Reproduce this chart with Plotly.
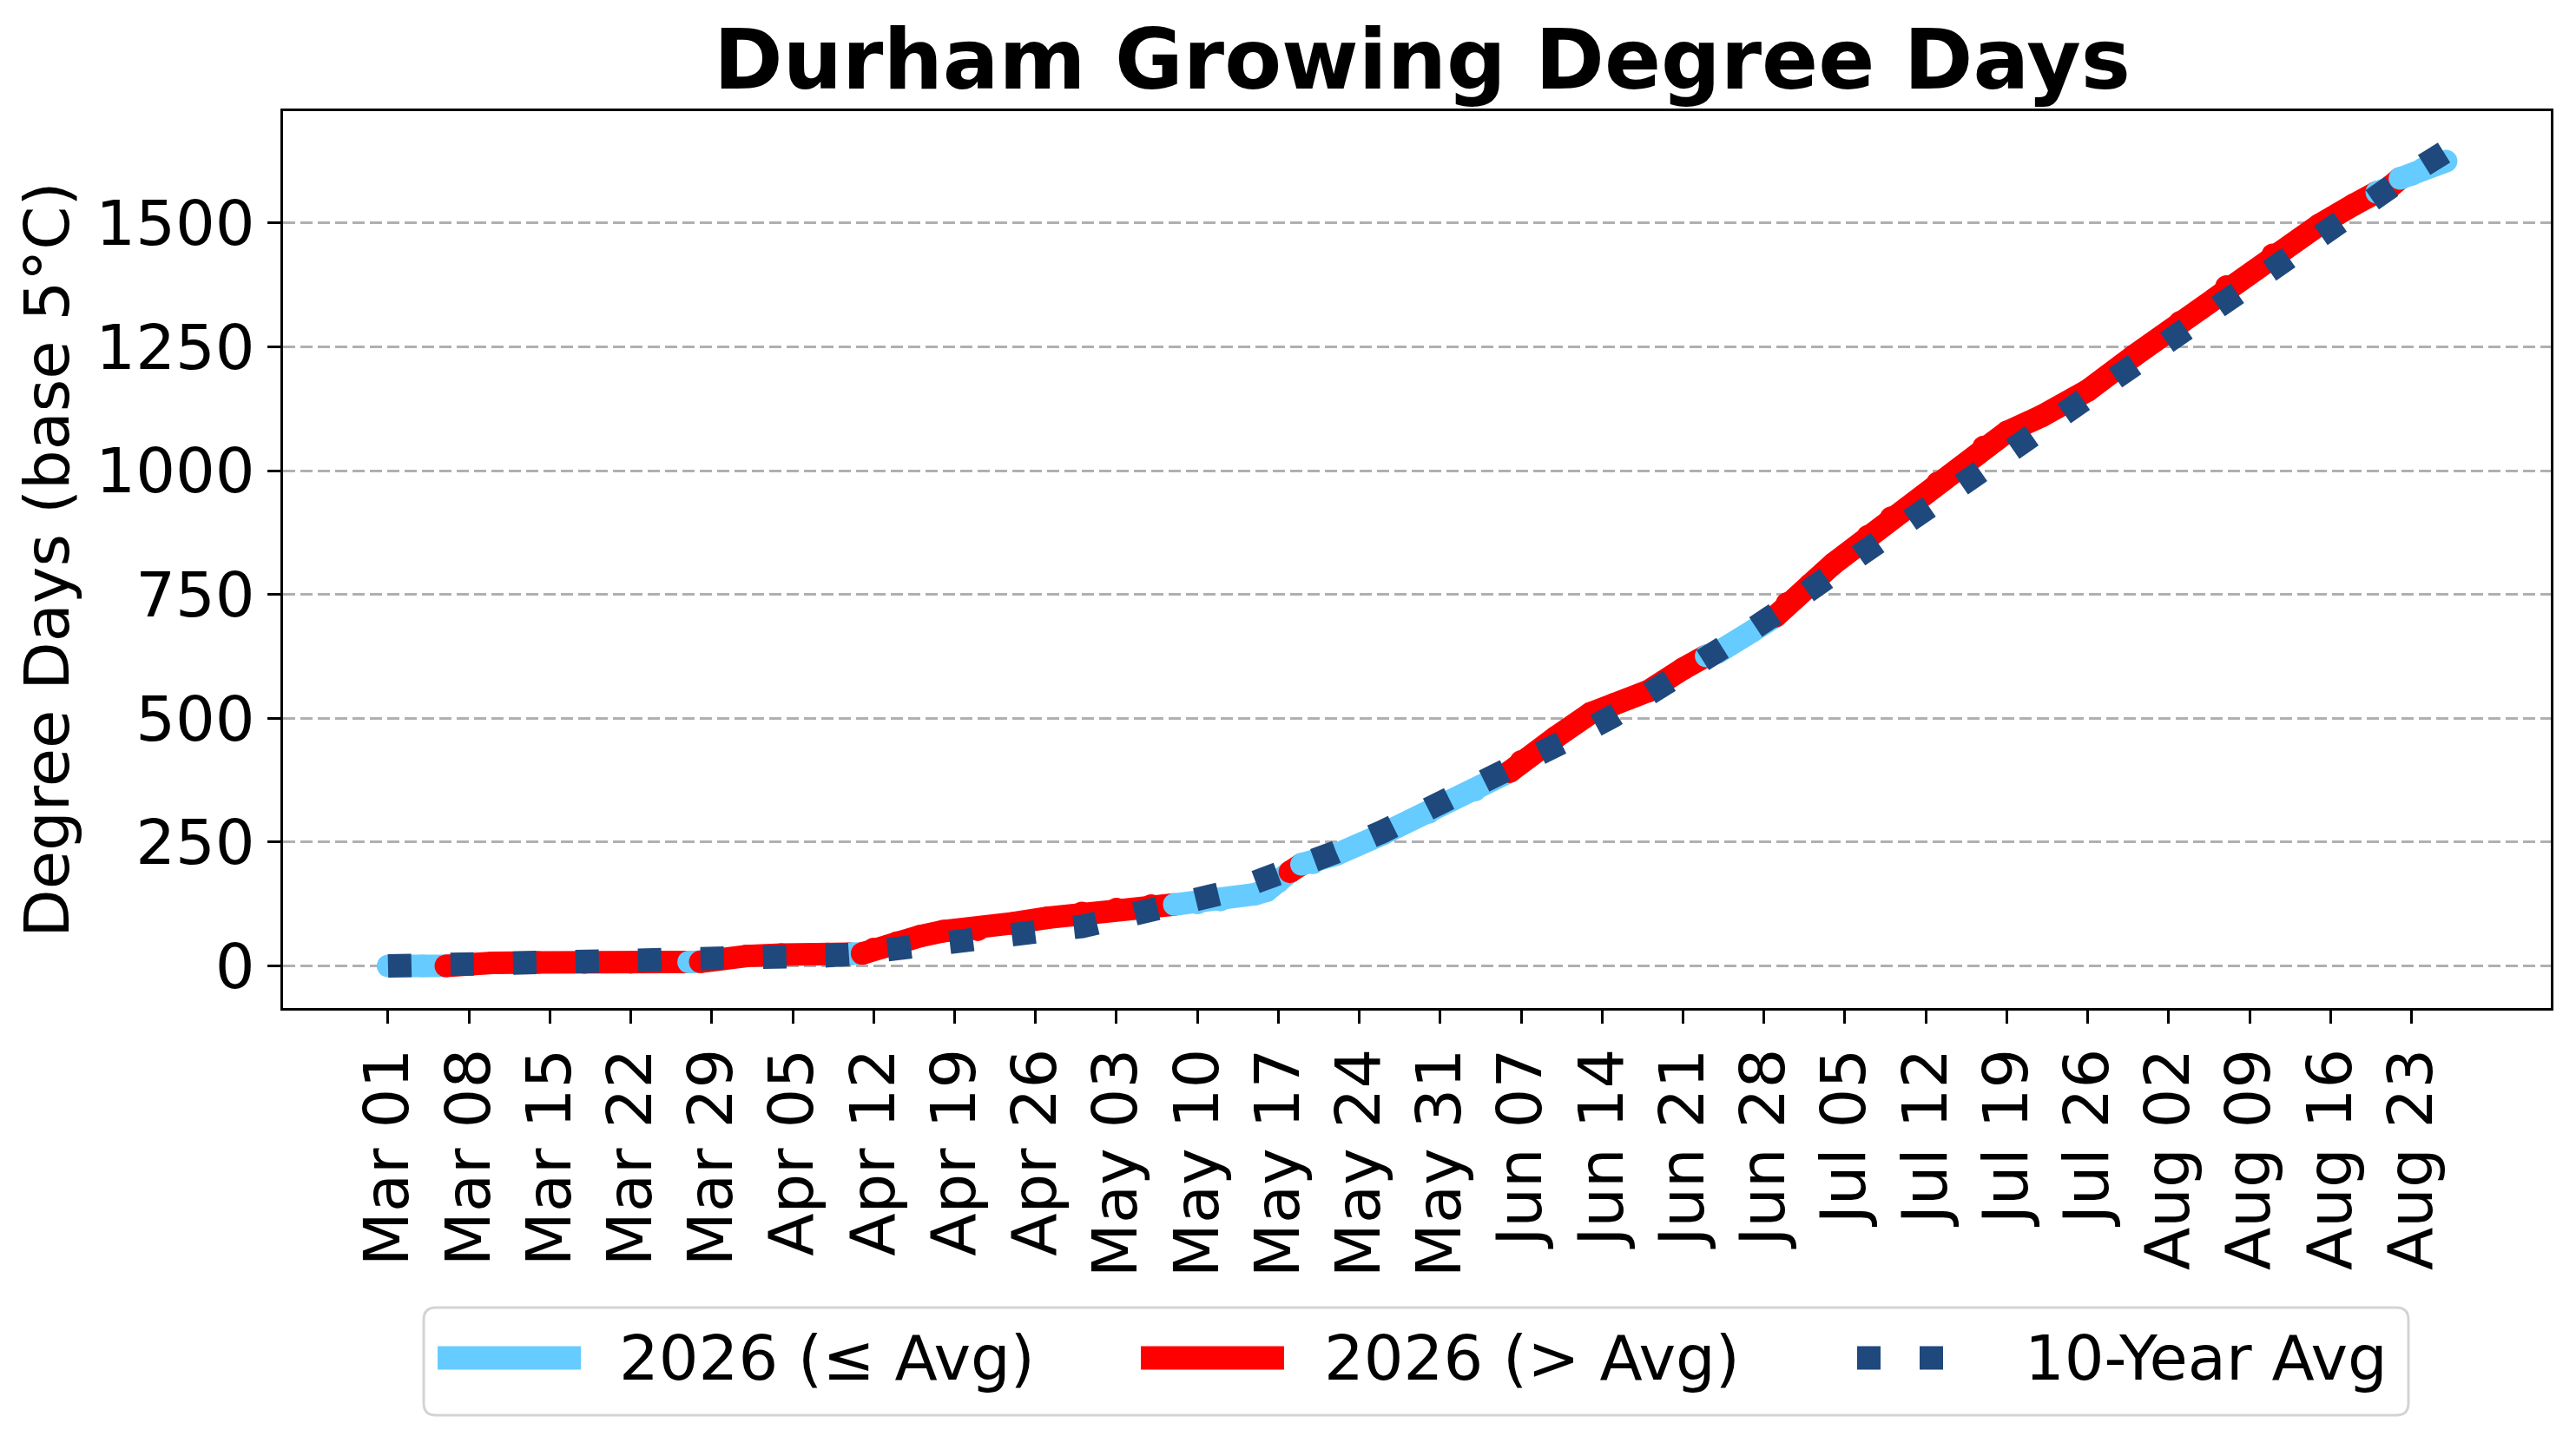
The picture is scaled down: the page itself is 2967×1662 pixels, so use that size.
import pandas as pd
import plotly.graph_objects as go

# sampled days of the 2026 season (cumulative GDD, base 5°C)
dates = [
    "2026-03-01", "2026-03-04", "2026-03-06", "2026-03-07", "2026-03-10", "2026-03-14",
    "2026-03-18", "2026-03-22", "2026-03-26", "2026-03-27", "2026-03-28", "2026-03-29",
    "2026-04-01", "2026-04-04", "2026-04-08", "2026-04-10", "2026-04-11", "2026-04-12",
    "2026-04-14", "2026-04-16", "2026-04-18", "2026-04-21", "2026-04-24", "2026-04-27",
    "2026-04-30", "2026-05-03", "2026-05-06", "2026-05-08", "2026-05-10", "2026-05-12",
    "2026-05-15", "2026-05-16", "2026-05-17", "2026-05-18", "2026-05-19", "2026-05-20",
    "2026-05-22", "2026-05-26", "2026-05-30", "2026-06-03", "2026-06-06", "2026-06-07",
    "2026-06-10", "2026-06-13", "2026-06-15", "2026-06-18", "2026-06-21", "2026-06-23",
    "2026-06-24", "2026-06-27", "2026-06-29", "2026-06-30", "2026-07-02", "2026-07-04",
    "2026-07-07", "2026-07-09", "2026-07-13", "2026-07-17", "2026-07-19", "2026-07-22",
    "2026-07-26", "2026-07-30", "2026-08-03", "2026-08-07", "2026-08-11", "2026-08-15",
    "2026-08-18", "2026-08-20", "2026-08-21", "2026-08-22", "2026-08-23", "2026-08-24",
    "2026-08-25", "2026-08-26",
]
gdd_2026 = [
    0, 0, 0, 3, 6, 7,
    7, 7.2, 7.8, 8.0, 8.2, 13,
    20, 23, 24, 24.5, 25, 34,
    47, 60, 70, 73, 86, 97,
    107, 115, 122, 124, 127, 133,
    145, 152, 170, 190, 205, 208,
    225, 266, 310, 355, 392, 413,
    462, 510, 528, 555, 600, 626,
    633, 676, 706, 732, 770, 812,
    868, 905, 975, 1048, 1078, 1110,
    1162, 1232, 1300, 1372, 1436, 1496,
    1537, 1562, 1570, 1590, 1598, 1610,
    1619, 1625,
]
gdd_avg = [
    0, 0.8, 1.3, 1.6, 3.1, 4.8,
    5.7, 6.7, 7.5, 7.9, 8.4, 9.0,
    12.4, 15.6, 20.4, 23.5, 27, 30,
    35.3, 40.5, 45.5, 54, 63.5, 71.5,
    79.5, 94.5, 110, 121, 132, 146,
    169, 177, 185, 194, 202, 211,
    230, 271, 315, 360, 396, 408,
    444, 480, 505, 546, 591, 621,
    636, 680, 711, 726, 759, 792,
    842, 874, 938, 1004, 1036, 1086,
    1153, 1219, 1283, 1348, 1413, 1479,
    1527, 1558, 1573, 1587, 1602, 1616,
    1631, 1645,
]

tick_dates = [
    "2026-03-01", "2026-03-08", "2026-03-15", "2026-03-22", "2026-03-29", "2026-04-05",
    "2026-04-12", "2026-04-19", "2026-04-26", "2026-05-03", "2026-05-10", "2026-05-17",
    "2026-05-24", "2026-05-31", "2026-06-07", "2026-06-14", "2026-06-21", "2026-06-28",
    "2026-07-05", "2026-07-12", "2026-07-19", "2026-07-26", "2026-08-02", "2026-08-09",
    "2026-08-16", "2026-08-23",
]
y_ticks = [0, 250, 500, 750, 1000, 1250, 1500]

BLUE = "#66CCFF"
RED = "#FF0000"
NAVY = "#1F497D"
LW = 26
FONT = "DejaVu Sans"
FS = 72

# page body adds an 8px margin, so the figure is drawn 16px smaller
OFF = 8
W, H = 2967 - 2 * OFF, 1662 - 2 * OFF
L, R, T, B = 318, 21, 120, 493


def px(x):
    # screenshot pixel -> paper x
    return (x - OFF - L) / (W - L - R)


def py(y):
    # screenshot pixel -> paper y
    return (H - B - (y - OFF)) / (H - T - B)


fig = go.Figure()

# split the 2026 line into runs above / at-or-below the 10-year average
runs = []
for i in range(1, len(dates)):
    c = RED if gdd_2026[i] > gdd_avg[i] else BLUE
    if runs and runs[-1][0] == c:
        runs[-1][2] = i
    else:
        runs.append([c, i - 1, i])

for c, s, e in runs:
    fig.add_trace(go.Scatter(
        x=dates[s:e + 1], y=gdd_2026[s:e + 1], mode="lines+markers",
        line=dict(color=c, width=LW), marker=dict(color=c, size=LW, line=dict(width=0)),
        showlegend=False, hoverinfo="skip"))

fig.add_trace(go.Scatter(
    x=dates, y=gdd_avg, mode="lines",
    line=dict(color=NAVY, width=27, dash="27px,45px"),
    showlegend=False, hoverinfo="skip"))

# x range in days relative to Mar 01
start = pd.Timestamp("2026-03-01")
x0 = start + pd.Timedelta(days=-9.08)
x1 = start + pd.Timedelta(days=187.05)

fig.update_xaxes(
    type="date", range=[x0, x1], tickmode="array", tickvals=tick_dates,
    tickformat="%b %d", tickangle=-90,
    showline=True, linecolor="black", linewidth=3, mirror=True,
    ticks="outside", ticklen=15, tickwidth=3, tickcolor="black",
    showgrid=False, zeroline=False,
    tickfont=dict(family=FONT, size=FS, color="black"),
)
fig.update_yaxes(
    range=[-85, 1726], tickmode="array", tickvals=y_ticks,
    showline=True, linecolor="black", linewidth=3, mirror=True,
    ticks="outside", ticklen=15, tickwidth=3, tickcolor="black",
    showgrid=True, gridcolor="#b0b0b0", gridwidth=3, griddash="14px,6px",
    zeroline=False,
    tickfont=dict(family=FONT, size=FS, color="black"),
    title=dict(text="Degree Days (base 5°C)", standoff=8,
               font=dict(family=FONT, size=FS, color="black")),
)

# legend drawn by hand to mimic the wide matplotlib handles
bx0, by0, bx1, by1, rad = 488, 1506, 2774, 1630, 14
rx = rad / (W - L - R)
ry = rad / (H - T - B)
a0, a1, b0, b1 = px(bx0), px(bx1), py(by1), py(by0)
box = (f"M {a0 + rx},{b0} L {a1 - rx},{b0} Q {a1},{b0} {a1},{b0 + ry} "
       f"L {a1},{b1 - ry} Q {a1},{b1} {a1 - rx},{b1} L {a0 + rx},{b1} "
       f"Q {a0},{b1} {a0},{b1 - ry} L {a0},{b0 + ry} Q {a0},{b0} {a0 + rx},{b0} Z")
shapes = [dict(type="path", xref="paper", yref="paper", path=box,
               line=dict(color="#d4d4d4", width=3), fillcolor="white", layer="above")]
ly = py(1564)
shapes.append(dict(type="line", xref="paper", yref="paper", x0=px(504), x1=px(669), y0=ly, y1=ly,
                   line=dict(color=BLUE, width=27), layer="above"))
shapes.append(dict(type="line", xref="paper", yref="paper", x0=px(1314), x1=px(1479), y0=ly, y1=ly,
                   line=dict(color=RED, width=27), layer="above"))
shapes.append(dict(type="line", xref="paper", yref="paper", x0=px(2139), x1=px(2239), y0=ly, y1=ly,
                   line=dict(color=NAVY, width=27, dash="27px,45px"), layer="above"))

labels = [("2026 (≤ Avg)", 711), ("2026 (> Avg)", 1523), ("10-Year Avg", 2330)]
annotations = [
    dict(text=t, x=px(x), y=ly, xref="paper", yref="paper", xanchor="left", yanchor="middle",
         showarrow=False, font=dict(family=FONT, size=FS, color="black"))
    for t, x in labels
]

fig.update_layout(
    width=W, height=H,
    margin=dict(l=L, r=R, t=T, b=B, autoexpand=False),
    plot_bgcolor="white", paper_bgcolor="white",
    title=dict(text="Durham Growing Degree Days", xref="paper", x=px(1638), xanchor="center",
               yref="container", y=1 - (68 - OFF) / H, yanchor="middle",
               font=dict(family=FONT, size=96, color="black", weight="bold")),
    shapes=shapes, annotations=annotations,
    showlegend=False,
)

fig.write_html("out.html")
